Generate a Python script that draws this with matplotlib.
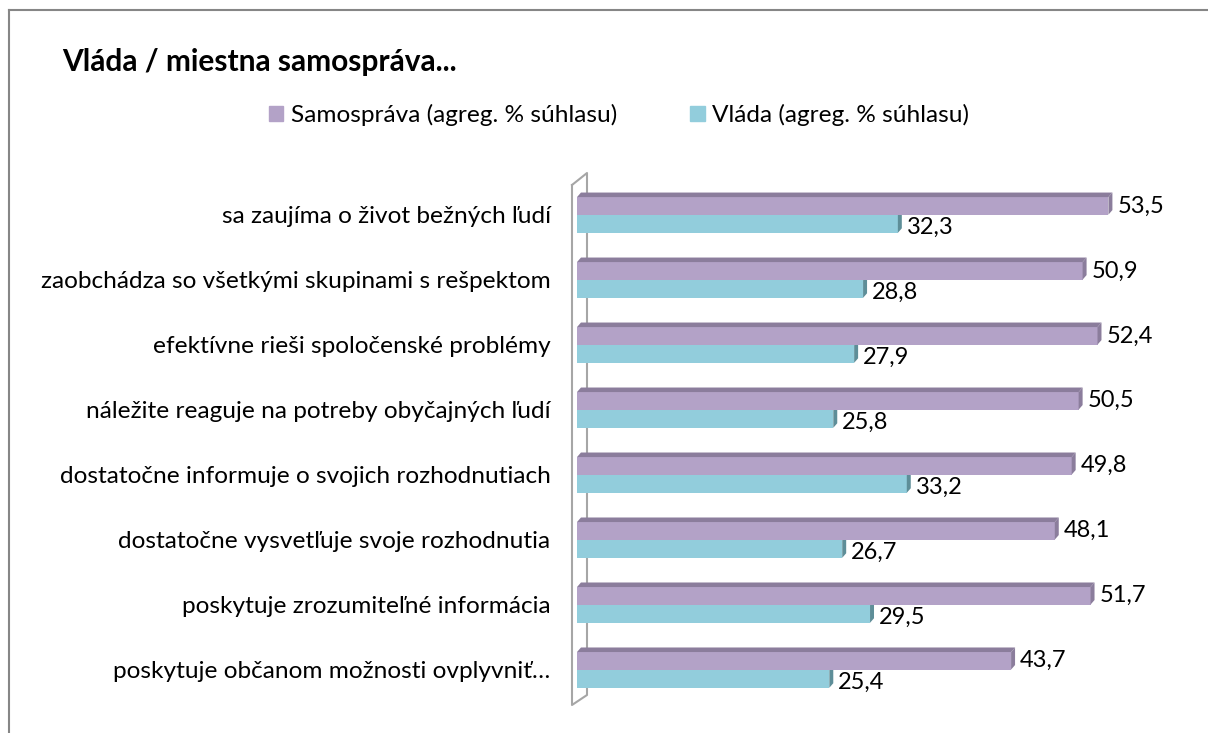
import matplotlib
matplotlib.use('Agg')
import matplotlib.pyplot as plt
from matplotlib.patches import Polygon, Patch
from matplotlib.lines import Line2D

plt.rcParams['font.family'] = ['Lato', 'DejaVu Sans']

categories = [
    'sa zaujíma o život bežných ľudí',
    'zaobchádza so všetkými skupinami s rešpektom',
    'efektívne rieši spoločenské problémy',
    'náležite reaguje na potreby obyčajných ľudí',
    'dostatočne informuje o svojich rozhodnutiach',
    'dostatočne vysvetľuje svoje rozhodnutia',
    'poskytuje zrozumiteľné informácia',
    'poskytuje občanom možnosti ovplyvniť…',
]
samosprava = [53.5, 50.9, 52.4, 50.5, 49.8, 48.1, 51.7, 43.7]
vlada = [32.3, 28.8, 27.9, 25.8, 33.2, 26.7, 29.5, 25.4]
series_names = ['Samospráva (agreg. % súhlasu)', 'Vláda (agreg. % súhlasu)']

purple, purple_dark = '#B3A2C7', '#8B7D9C'
cyan, cyan_dark = '#92CDDC', '#5E8E98'

W, H = 1208, 733
fig = plt.figure(figsize=(W / 100, H / 100), dpi=100)

def px(x, y):
    return x / W, 1 - y / H

# axes placed so that x=0 sits at the wall
ax = fig.add_axes([577 / W, (H - 705) / H, 596 / W, 530 / H])
ax.set_xlim(0, 60)
ax.set_ylim(7.54, -0.615)
for s in ax.spines.values():
    s.set_visible(False)
ax.set_xticks([])

bh = 0.27
off = 0.14
dx, dy = 0.4, 0.07   # 3d depth in data units
fs = 17.6

for i, (s, v) in enumerate(zip(samosprava, vlada)):
    # samosprava bar with top and side faces
    yc = i - off
    top, bot = yc - bh / 2, yc + bh / 2
    ax.barh(yc, s, height=bh, color=purple, zorder=3)
    ax.add_patch(Polygon([(0, top), (s, top), (s + dx, top - dy), (dx, top - dy)],
                         closed=True, color=purple_dark, zorder=3, lw=0))
    ax.add_patch(Polygon([(s, top), (s + dx, top - dy), (s + dx, bot - dy), (s, bot)],
                         closed=True, color=purple_dark, zorder=3, lw=0))
    ax.text(s + dx + 0.5, yc, f'{s:.1f}'.replace('.', ','), va='center', ha='left',
            fontsize=17, color='black')
    # vlada bar
    yc2 = i + off
    top2, bot2 = yc2 - bh / 2, yc2 + bh / 2
    ax.barh(yc2, v, height=bh, color=cyan, zorder=2)
    ax.add_patch(Polygon([(v, top2), (v + dx, top2 - dy), (v + dx, bot2 - dy), (v, bot2)],
                         closed=True, color=cyan_dark, zorder=2, lw=0))
    ax.text(v + dx + 0.5, yc2 + 0.05, f'{v:.1f}'.replace('.', ','), va='center', ha='left',
            fontsize=17, color='black')

ax.set_yticks(range(len(categories)))
ax.set_yticklabels(categories, fontsize=fs)
ax.tick_params(axis='y', length=0, pad=19)

# back wall of the 3d plot
wall_x = [572, 572, 587, 587, 572]
wall_y = [185, 705, 695, 173, 185]
xs = [px(x, y)[0] for x, y in zip(wall_x, wall_y)]
ys = [px(x, y)[1] for x, y in zip(wall_x, wall_y)]
ax.plot(xs, ys, transform=fig.transFigure, color='#A6A6A6', lw=1.5, clip_on=False, zorder=1)

# chart border (only top/left visible)
fig.add_artist(Line2D([px(9, 0)[0], 1], [px(0, 10)[1]] * 2, color='#868686', lw=1.5))
fig.add_artist(Line2D([px(9, 0)[0]] * 2, [px(0, 10)[1], 0], color='#868686', lw=1.5))

fig.text(px(62, 0)[0], px(0, 62)[1], 'Vláda / miestna samospráva...', fontsize=21.5,
         fontweight='bold', va='center', ha='left')

handles = [Patch(color=purple), Patch(color=cyan)]
fig.legend(handles, series_names, loc='center', bbox_to_anchor=px(619, 115), ncol=2,
           frameon=False, fontsize=fs, handlelength=0.6, handleheight=0.6,
           handletextpad=0.3, columnspacing=3.0)

fig.savefig('out.png', dpi=100)
